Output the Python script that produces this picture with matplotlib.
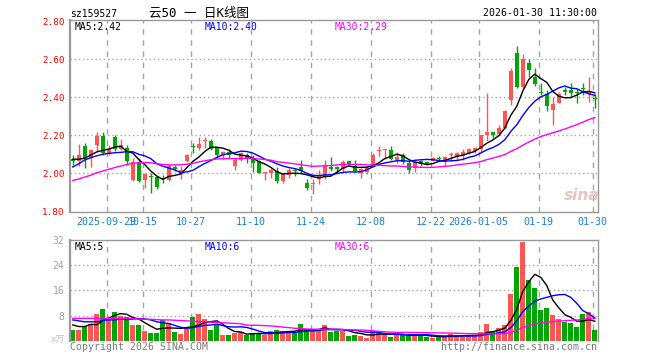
import matplotlib
matplotlib.use("Agg")
import matplotlib.pyplot as plt
import numpy as np
import pandas as pd

# daily K-line, 2025-09-19 .. 2026-01-30 (88 sessions)
OPEN = [2.075, 2.062, 2.145, 2.080, 2.150, 2.198, 2.100, 2.190, 2.127, 2.135,
        1.965, 2.060, 1.962, 1.982, 1.980, 1.975, 1.965, 2.028, 1.998, 2.062,
        2.142, 2.132, 2.168, 2.172, 2.136, 2.096, 2.112, 2.040, 2.070, 2.095,
        2.075, 2.062, 2.003, 2.002, 2.013, 1.958, 1.992, 2.015, 2.035, 1.950,
        1.945, 1.970, 1.978, 2.035, 2.027, 2.022, 2.063, 2.038, 2.003, 2.004,
        2.037, 2.115, 2.121, 2.123, 2.070, 2.096, 2.055, 2.026, 2.062, 2.060,
        2.066, 2.078, 2.070, 2.095, 2.085, 2.092, 2.108, 2.116, 2.130, 2.202,
        2.215, 2.205, 2.236, 2.386, 2.635, 2.455, 2.582, 2.508, 2.426, 2.417,
        2.333, 2.372, 2.436, 2.438, 2.428, 2.448, 2.417, 2.397]
HIGH = [2.095, 2.155, 2.160, 2.130, 2.218, 2.215, 2.150, 2.200, 2.178, 2.148,
        2.080, 2.080, 2.000, 2.000, 1.985, 1.990, 2.047, 2.045, 2.040, 2.100,
        2.160, 2.193, 2.190, 2.182, 2.140, 2.118, 2.128, 2.082, 2.110, 2.105,
        2.095, 2.070, 2.008, 2.028, 2.032, 2.003, 2.030, 2.030, 2.070, 1.968,
        1.968, 2.018, 2.070, 2.088, 2.038, 2.070, 2.065, 2.070, 2.030, 2.036,
        2.105, 2.145, 2.128, 2.145, 2.110, 2.105, 2.070, 2.065, 2.070, 2.064,
        2.086, 2.090, 2.090, 2.112, 2.112, 2.126, 2.135, 2.140, 2.202, 2.425,
        2.218, 2.253, 2.335, 2.553, 2.670, 2.628, 2.600, 2.553, 2.475, 2.440,
        2.400, 2.430, 2.454, 2.475, 2.442, 2.476, 2.505, 2.418]
LOW = [2.045, 2.040, 2.030, 2.035, 2.110, 2.098, 2.095, 2.115, 2.120, 2.042,
       1.960, 1.955, 1.920, 1.898, 1.915, 1.950, 1.960, 2.010, 1.970, 2.060,
       2.108, 2.125, 2.135, 2.120, 2.078, 2.076, 2.078, 2.018, 2.065, 2.053,
       2.005, 2.000, 1.962, 1.975, 1.950, 1.950, 1.975, 1.988, 1.995, 1.910,
       1.890, 1.945, 1.972, 2.014, 2.000, 2.000, 2.040, 2.005, 1.977, 1.998,
       2.035, 2.093, 2.073, 2.070, 2.053, 2.050, 2.003, 2.008, 2.038, 2.045,
       2.062, 2.062, 2.040, 2.065, 2.070, 2.070, 2.100, 2.108, 2.114, 2.172,
       2.185, 2.200, 2.232, 2.360, 2.447, 2.450, 2.505, 2.460, 2.410, 2.330,
       2.255, 2.370, 2.410, 2.400, 2.370, 2.412, 2.377, 2.342]
CLOSE = [2.065, 2.095, 2.080, 2.125, 2.198, 2.105, 2.130, 2.130, 2.148, 2.062,
         2.060, 1.960, 1.998, 1.978, 1.930, 1.972, 2.038, 2.025, 2.016, 2.095,
         2.138, 2.152, 2.172, 2.130, 2.095, 2.112, 2.098, 2.068, 2.105, 2.075,
         2.055, 2.003, 2.006, 2.018, 1.958, 1.996, 2.017, 2.012, 2.010, 1.924,
         1.948, 1.985, 2.045, 2.022, 2.025, 2.057, 2.043, 2.010, 2.020, 2.030,
         2.096, 2.118, 2.124, 2.075, 2.088, 2.057, 2.016, 2.058, 2.048, 2.049,
         2.082, 2.076, 2.084, 2.098, 2.105, 2.114, 2.126, 2.132, 2.200, 2.218,
         2.200, 2.240, 2.330, 2.540, 2.455, 2.600, 2.545, 2.470, 2.422, 2.355,
         2.364, 2.416, 2.430, 2.425, 2.425, 2.445, 2.430, 2.393]
VOLUME = [3.4, 3.4, 4.6, 5.4, 8.5, 10.1, 7.3, 9.1, 8.0, 7.4,
          5.0, 5.0, 3.2, 2.5, 2.5, 6.6, 5.5, 2.9, 2.1, 3.9,
          7.5, 8.5, 6.9, 3.4, 5.3, 1.8, 1.8, 2.3, 2.7, 1.8,
          2.5, 2.3, 1.8, 3.1, 3.4, 3.1, 3.1, 2.3, 5.3, 3.4,
          3.4, 3.4, 5.0, 2.8, 3.2, 3.2, 1.6, 1.9, 1.6, 0.9,
          3.0, 3.0, 1.9, 1.3, 1.9, 1.9, 1.9, 1.6, 1.6, 1.3,
          0.9, 1.3, 1.3, 2.1, 1.6, 1.6, 1.6, 1.6, 2.8, 5.3,
          3.0, 4.0, 4.9, 14.8, 23.4, 31.4, 19.2, 16.7, 9.9, 10.4,
          8.3, 6.9, 5.9, 5.6, 4.3, 8.5, 9.1, 3.4]

# MA values before a full window is on the chart
MA5_HEAD = [2.074, 2.074, 2.079, 2.096]
MA10_HEAD = [2.033, 2.050, 2.070, 2.082, 2.092, 2.100, 2.105, 2.108, 2.110]
MA30_HEAD = [1.962, 1.970, 1.980, 1.990, 2.003, 2.012, 2.021, 2.030, 2.038, 2.046,
             2.053, 2.056, 2.057, 2.055, 2.050, 2.046, 2.044, 2.044, 2.045, 2.048,
             2.052, 2.060, 2.066, 2.071, 2.075, 2.076, 2.077, 2.077, 2.078]
VMA5_HEAD = [5.0, 4.5, 4.5, 5.2]
VMA10_HEAD = [6.6, 6.3, 6.0, 6.0, 6.0, 6.4, 6.6, 6.6, 6.9]
VMA30_HEAD = [7.1, 7.1, 7.1, 7.1, 7.1, 7.1, 7.1, 7.1, 7.1, 7.1,
              7.0, 6.9, 6.8, 6.8, 6.7, 6.6, 6.6, 6.5, 6.4, 6.3,
              6.2, 6.1, 6.0, 5.9, 5.8, 5.7, 5.6, 5.5, 5.4]

TICK_IDX = [6, 12, 20, 30, 40, 50, 60, 68, 78, 87]
TICK_LABELS = ["2025-09-29", "10-15", "10-27", "11-10", "11-24",
               "12-08", "12-22", "2026-01-05", "01-19", "01-30"]
PRICE_TICKS = [1.80, 2.00, 2.20, 2.40, 2.60, 2.80]
VOL_TICKS = [8, 16, 24, 32]

RED = "#ff5555"
GREEN = "#00a600"
GRID = "#a4a4a4"
SPINE = "#999999"
W, H = 660, 360

plt.rcParams["font.family"] = ["DejaVu Sans Mono", "Noto Sans CJK SC"]


def moving_avg(values, n, head):
    ma = pd.Series(values).rolling(n).mean().to_numpy()
    ma[: n - 1] = head
    return ma


def px(x, y):
    return x / W, 1 - y / H


fig = plt.figure(figsize=(W / 100, H / 100), dpi=100)
ax = fig.add_axes([70 / W, 1 - 212 / H, 527.5 / W, 192 / H])
axv = fig.add_axes([70 / W, 1 - 340.7 / H, 527.5 / W, 100.7 / H])

x = np.arange(len(CLOSE))
o, c = np.array(OPEN), np.array(CLOSE)
colors = np.where(c > o, RED, GREEN)
bottom = np.minimum(o, c)
height = np.maximum(np.abs(c - o), 0.0055)
vline_pos = np.array(TICK_IDX) - 0.38

# grid first, drawn explicitly
for a, hlines in ((ax, PRICE_TICKS[1:-1]), (axv, VOL_TICKS[:-1])):
    for xp in vline_pos:
        a.axvline(xp, color=GRID, linestyle=(0, (4, 4)), lw=1, zorder=1)
    for yp in hlines:
        a.axhline(yp, color=GRID, linestyle=(0, (1, 2)), lw=1, zorder=1)

# candles
ax.vlines(x, LOW, HIGH, colors=colors, linewidth=1, zorder=2)
ax.bar(x, height, 0.75, bottom=bottom, color=colors, linewidth=0, zorder=3)
ax.plot(x, moving_avg(CLOSE, 5, MA5_HEAD), color="black", lw=1, zorder=4)
ax.plot(x, moving_avg(CLOSE, 10, MA10_HEAD), color="#0000ff", lw=1, zorder=4)
ax.plot(x, moving_avg(CLOSE, 30, MA30_HEAD), color="#ff00ff", lw=1, zorder=4)

# volume
axv.bar(x, VOLUME, 0.8, color=colors, linewidth=0, zorder=2)
axv.plot(x, moving_avg(VOLUME, 5, VMA5_HEAD), color="black", lw=1, zorder=4)
axv.plot(x, moving_avg(VOLUME, 10, VMA10_HEAD), color="#0000ff", lw=1, zorder=4)
axv.plot(x, moving_avg(VOLUME, 30, VMA30_HEAD), color="#ff00ff", lw=1, zorder=4)

for a in (ax, axv):
    a.set_xlim(-0.467, 87.45)
    for s in a.spines.values():
        s.set_color(SPINE)
        s.set_linewidth(1)
    a.spines["left"].set_linewidth(1.6)

ax.set_ylim(1.796, 2.807)
ax.set_yticks(PRICE_TICKS, [f"{v:.2f}" for v in PRICE_TICKS])
ax.tick_params(axis="y", length=0, pad=4, labelcolor="#ff0000", labelsize=6.7)
ax.set_xticks(vline_pos, TICK_LABELS)
ax.tick_params(axis="x", length=0, pad=3.5, labelcolor="#1a7fd4", labelsize=7.2)

axv.set_ylim(0, 32)
axv.set_yticks(VOL_TICKS, [str(v) for v in VOL_TICKS])
axv.tick_params(axis="y", length=0, pad=4, labelcolor="#a0a0a0", labelsize=7)
axv.set_xticks([])
axv.spines["bottom"].set_visible(False)

# header
fig.text(*px(70, 14), "sz159527", fontsize=7, va="center")
fig.text(*px(199, 13), "云50 一 日K线图", fontsize=9, ha="center", va="center")
fig.text(*px(597, 13), "2026-01-30 11:30:00", fontsize=7.1, ha="right", va="center")

# MA legends
for xx, txt, col in [(75, "MA5:2.42", "black"), (205, "MA10:2.40", "#0000ff"),
                     (335, "MA30:2.29", "#ff00ff")]:
    fig.text(*px(xx, 26.5), txt, color=col, fontsize=7, va="center")
for xx, txt, col in [(75, "MA5:5", "black"), (205, "MA10:6", "#0000ff"),
                     (335, "MA30:6", "#ff00ff")]:
    fig.text(*px(xx, 246.5), txt, color=col, fontsize=7, va="center")

fig.text(*px(65, 340), "x万", color="#c0c0c0", fontsize=6.5, ha="right", va="center")
fig.text(*px(70, 347), "Copyright 2026 SINA.COM", color="#777777", fontsize=7.1, va="center")
fig.text(*px(597, 347), "http://finance.sina.com.cn", color="#777777", fontsize=7.1,
         ha="right", va="center")
fig.text(*px(582, 196), "sina", color="#e6c4c4", fontsize=11, style="italic",
         weight="bold", ha="center", va="center", family="DejaVu Sans")

fig.savefig("out.png", dpi=100)
